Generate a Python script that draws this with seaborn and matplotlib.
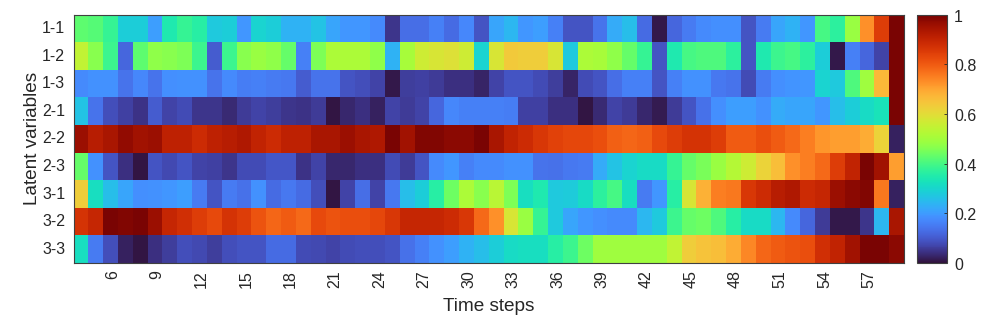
import matplotlib
matplotlib.use("Agg")
import matplotlib.pyplot as plt
from matplotlib.transforms import ScaledTranslation
import seaborn as sns
import pandas as pd

# Latent variable activations per time step
time_steps = list(range(4, 60))
latent_labels = ["1-1", "1-2", "1-3", "2-1", "2-2", "2-3", "3-1", "3-2", "3-3"]
shown_steps = list(range(6, 58, 3))

row_1_1 = [.425, .415, .38, .285, .285, .205, .345, .38, .36, .275, .285, .195, .295, .285, .235, .235, .265, .215, .195,
           .195, .175, .05, .13, .13, .16, .125, .17, .09, .215, .245, .195, .205, .16, .09, .09, .14, .225, .255,
           .125, .01, .12, .15, .175, .18, .18, .09, .15, .215, .235, .195, .40, .37, .485, .73, .85, 1.0]
row_1_2 = [.545, .465, .39, .12, .425, .475, .465, .455, .39, .105, .39, .465, .485, .475, .43, .16, .455, .515, .515,
           .515, .475, .235, .505, .565, .58, .59, .565, .295, .58, .64, .63, .63, .58, .275, .515, .505, .475, .43,
           .38, .09, .345, .40, .41, .41, .37, .09, .345, .39, .40, .37, .285, .01, .16, .12, .07, 1.0]
row_1_3 = [.175, .185, .185, .14, .17, .14, .18, .185, .185, .14, .175, .155, .16, .15, .145, .105, .14, .14, .09,
           .085, .07, .01, .06, .065, .055, .04, .04, .025, .07, .09, .09, .08, .06, .025, .08, .09, .13, .16,
           .16, .09, .16, .185, .185, .145, .14, .08, .15, .18, .19, .195, .295, .275, .41, .495, .67, 1.0]
row_2_1 = [.265, .14, .085, .065, .045, .105, .07, .08, .05, .05, .035, .055, .07, .06, .05, .045, .055, .005, .03,
           .04, .02, .07, .055, .07, .12, .17, .16, .16, .16, .155, .065, .065, .04, .04, .005, .035, .07, .055,
           .03, .015, .055, .09, .135, .18, .205, .205, .185, .225, .215, .215, .195, .255, .285, .31, .33, 1.0]
row_2_2 = [.96, .92, .94, .97, .95, .96, .91, .91, .885, .91, .92, .93, .905, .885, .91, .91, .94, .94, .96,
           .94, .93, 1.0, .95, .99, .99, .98, .98, 1.0, .94, .905, .885, .86, .84, .83, .83, .82, .79, .785,
           .79, .825, .85, .87, .87, .85, .80, .80, .82, .80, .78, .75, .72, .71, .71, .69, .62, .02]
row_2_3 = [.43, .185, .09, .04, .005, .09, .075, .09, .07, .065, .05, .08, .08, .095, .095, .045, .07, .03, .03,
           .04, .04, .08, .055, .09, .175, .195, .16, .175, .175, .185, .185, .14, .135, .145, .15, .225, .265, .295,
           .31, .31, .38, .43, .45, .485, .525, .565, .62, .66, .73, .75, .78, .85, .905, 1.0, .95, .71]
row_3_1 = [.63, .32, .255, .215, .18, .185, .195, .205, .15, .09, .15, .135, .185, .125, .145, .125, .085, .005, .07,
           .13, .07, .145, .255, .285, .36, .44, .515, .465, .535, .455, .32, .345, .275, .28, .31, .37, .40, .32,
           .15, .195, .36, .58, .68, .75, .76, .86, .885, .92, .93, .885, .895, .96, .98, .99, .76, .02]
row_3_2 = [.87, .895, 1.0, .99, 1.0, .96, .895, .875, .85, .825, .87, .85, .81, .785, .80, .78, .825, .81, .82,
           .82, .83, .86, .895, .895, .895, .885, .86, .78, .73, .58, .485, .38, .275, .215, .195, .18, .175, .175,
           .245, .275, .39, .43, .44, .41, .36, .31, .31, .245, .175, .12, .055, .01, .01, .05, .245, .94]
row_3_3 = [.32, .15, .085, .02, .005, .04, .06, .085, .075, .06, .085, .09, .09, .125, .125, .08, .075, .07, .08,
           .085, .085, .09, .135, .16, .185, .205, .235, .255, .285, .31, .32, .32, .36, .39, .44, .495, .495, .495,
           .495, .495, .545, .63, .65, .66, .69, .74, .785, .80, .81, .82, .875, .905, .95, 1.0, 1.0, .98]

rows = [row_1_1, row_1_2, row_1_3, row_2_1, row_2_2, row_2_3, row_3_1, row_3_2, row_3_3]
df = pd.DataFrame(rows, index = latent_labels, columns = time_steps)

plt.rcParams['font.family'] = ['Liberation Sans', 'DejaVu Sans']

W, H = 997, 325
fig = plt.figure(figsize = (W / 100, H / 100), dpi = 100)
ax = fig.add_axes([73.5 / W, 1 - 263 / H, 830.5 / W, 248.3 / H])
cax = fig.add_axes([917 / W, 1 - 263 / H, 30 / W, 248.3 / H])

sns.heatmap(df, ax = ax, cbar_ax = cax, cmap = "turbo", vmin = 0, vmax = 1,
            xticklabels = False, yticklabels = True,
            cbar_kws = {"ticks": [0, 0.2, 0.4, 0.6, 0.8, 1]})

# Only every third time step gets a label
ax.set_xticks([time_steps.index(s) + 0.5 for s in shown_steps])
ax.set_xticklabels(shown_steps, rotation = 90, fontsize = 11.5, color = "#262626")
ax.set_yticklabels(latent_labels, rotation = 0, fontsize = 11.5, color = "#262626")
ax.tick_params(axis = "x", length = 0, pad = 5)
ax.tick_params(axis = "y", length = 0, pad = 6)
ax.set_xlabel("Time steps", fontsize = 13.7, color = "#262626", labelpad = 7)
ax.set_ylabel("Latent variables", fontsize = 13.7, color = "#262626", labelpad = 1)

# Nudge the rotated labels to sit like the original ones
shift = ScaledTranslation(2 / 100, 0, fig.dpi_scale_trans)
for label in ax.get_xticklabels():
    label.set_transform(label.get_transform() + shift)

for spine in ax.spines.values():
    spine.set_visible(True)
    spine.set_linewidth(0.8)
    spine.set_color("#404040")

cbar = ax.collections[0].colorbar
cbar.ax.set_yticklabels(["0", "0.2", "0.4", "0.6", "0.8", "1"])
cbar.ax.tick_params(length = 2.5, width = 0.6, color = "#262626", direction = "in", labelsize = 11.5, labelcolor = "#262626", pad = 5)
cbar.outline.set_visible(True)
cbar.outline.set_linewidth(0.8)
cbar.outline.set_edgecolor("#404040")

down = ScaledTranslation(0, -1 / 100, fig.dpi_scale_trans)
for label in cbar.ax.get_yticklabels():
    label.set_transform(label.get_transform() + down)

fig.savefig("out.png", dpi = 100)
